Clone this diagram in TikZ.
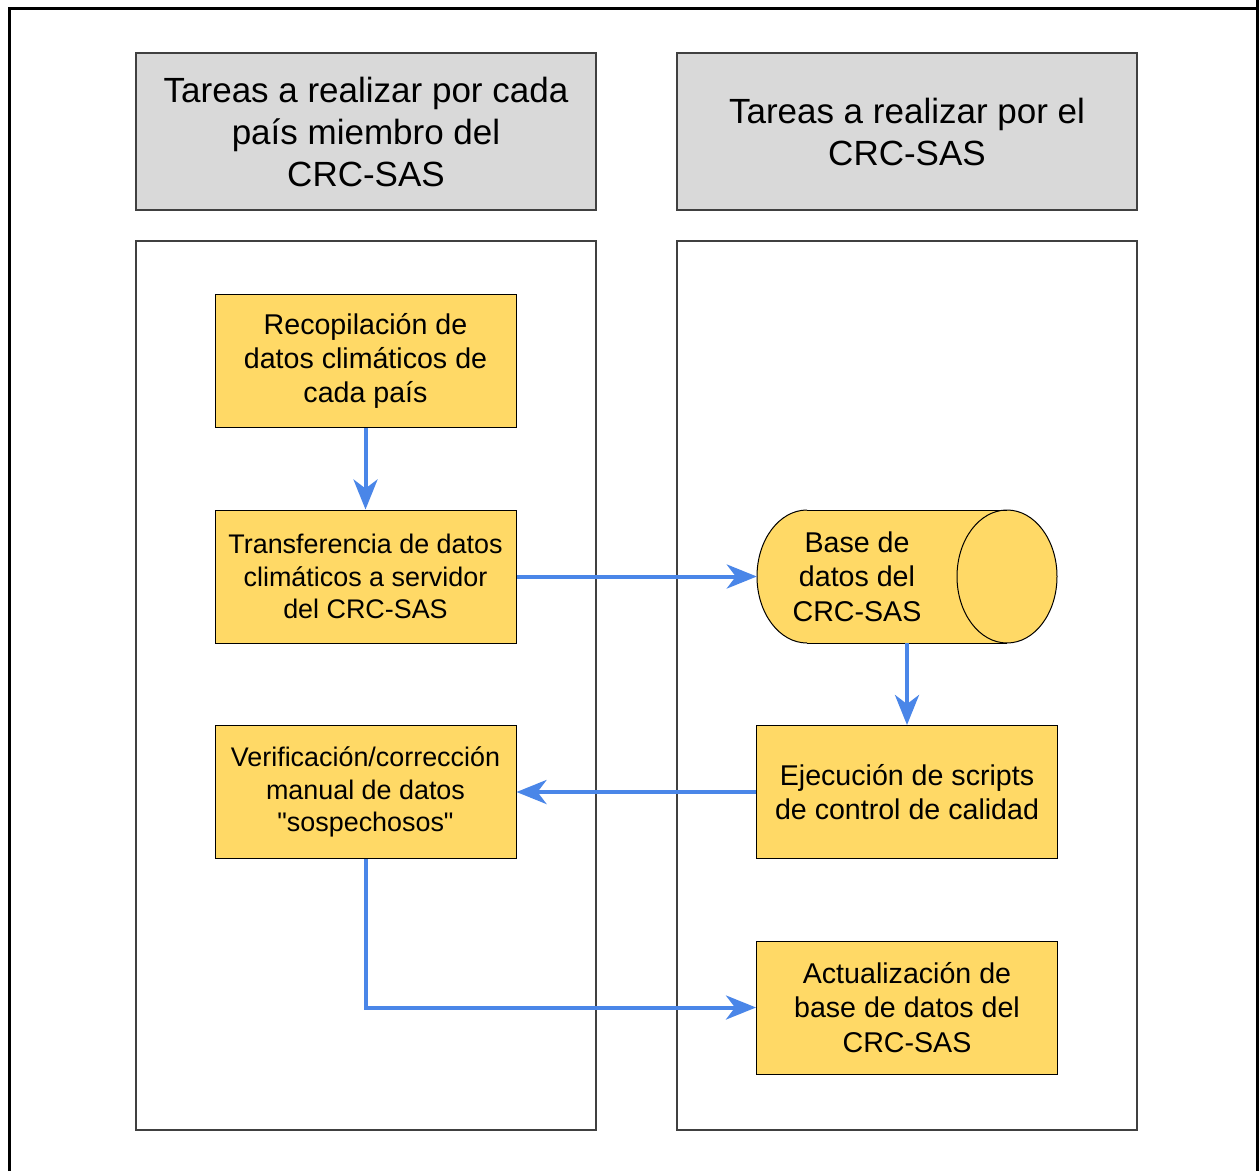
\documentclass[tikz,border=0pt]{standalone}
\usepackage{fontspec}
\setmainfont{Liberation Sans}[Ligatures=TeXOff]
\usetikzlibrary{arrows.meta}
\definecolor{hdrgray}{HTML}{D9D9D9}
\definecolor{boxyellow}{HTML}{FFD966}
\definecolor{flowblue}{HTML}{4A86E8}
\definecolor{lanegray}{HTML}{404040}
\begin{document}
\begin{tikzpicture}[x=1pt,y=-1pt,
  hdr/.style={draw=lanegray, line width=1.3pt, fill=hdrgray, minimum width=460pt, minimum height=157pt, align=center, font=\fontsize{35}{42}\selectfont, inner sep=0pt},
  lane/.style={draw=lanegray, line width=1.3pt, fill=white, minimum width=460pt, minimum height=889pt, inner sep=0pt},
  stepbox/.style={draw=black, line width=1pt, fill=boxyellow, minimum width=301pt, minimum height=133pt, align=center, inner sep=0pt},
  bigtxt/.style={font=\fontsize{28.6}{34.3}\selectfont},
  smalltxt/.style={font=\fontsize{26.9}{32.5}\selectfont},
  flow/.style={draw=flowblue, line width=4pt, -{Stealth[length=30pt, width=24pt, inset=9pt]}}
]
\useasboundingbox (0,0) rectangle (1259,1171);
% outer frame
\draw[line width=3pt] (9.5,1171) -- (9.5,8.5) -- (1257.5,8.5);
\draw[line width=3pt] (1257.5,0) -- (1257.5,1171);
% headers
\node[hdr] (h1) at (366,131.5) {Tareas a realizar por cada\\país miembro del\\CRC-SAS};
\node[hdr] (h2) at (907,131.5) {Tareas a realizar por el\\CRC-SAS};
% lanes
\node[lane] (l1) at (366,685.5) {};
\node[lane] (l2) at (907,685.5) {};
% boxes
\node[stepbox, bigtxt] (b1) at (365.5,361) {Recopilación de\\datos climáticos de\\cada país};
\node[stepbox, smalltxt] (b2) at (365.5,576.5) {Transferencia de datos\\climáticos a servidor\\del CRC-SAS};
\node[stepbox, smalltxt] (b3) at (365.5,792) {Verificación/corrección\\manual de datos\\"sospechosos"};
\node[stepbox, bigtxt] (b4) at (907,792) {Ejecución de scripts\\de control de calidad};
\node[stepbox, bigtxt] (b5) at (907,1007.5) {Actualización de\\base de datos del\\CRC-SAS};
% cylinder
\fill[boxyellow] (807,510) rectangle (1007,643);
\fill[boxyellow] (807,576.5) ellipse[x radius=50, y radius=66.5];
\fill[boxyellow] (1007,576.5) ellipse[x radius=50, y radius=66.5];
\draw[line width=1pt] (807,510) -- (1007,510);
\draw[line width=1pt] (807,643) -- (1007,643);
\begin{scope}
\clip (740,500) rectangle (807,650);
\draw[line width=1pt] (807,576.5) ellipse[x radius=50, y radius=66.5];
\end{scope}
\draw[line width=1pt] (1007,576.5) ellipse[x radius=50, y radius=66.5];
\node[minimum width=300pt, minimum height=133pt, inner sep=0pt] (db) at (907,576.5) {};
\node[bigtxt, align=center, inner sep=0pt] (dbt) at (857,576.5) {Base de\\datos del\\CRC-SAS};
% connectors
\draw[flow] (b1.south) -- (b2.north);
\draw[flow] (b2.east) -- (db.west);
\draw[flow] (db.south) -- (b4.north);
\draw[flow] (b4.west) -- (b3.east);
\draw[flow] (b3.south) |- (b5.west);
\end{tikzpicture}
\end{document}
